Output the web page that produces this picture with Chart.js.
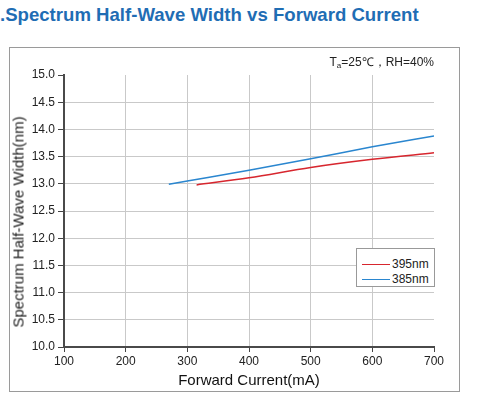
<!DOCTYPE html>
<html>
<head>
<meta charset="utf-8">
<script src="https://cdn.jsdelivr.net/npm/chart.js@4.4.1/dist/chart.umd.min.js"></script>
<style>
  html, body { margin:0; padding:0; background:#fff; width:482px; height:420px; overflow:hidden; }
  body { position:relative; font-family:"Liberation Sans", Arial, sans-serif; }
  #title { position:absolute; left:0px; top:4px; font-weight:bold; font-size:18.6px; color:#1f6db4; white-space:nowrap; }
  #frame { position:absolute; left:9px; top:47px; width:449px; height:343px; border:1px solid #9a9a9a; }
  #wrap { position:absolute; left:0; top:0; width:482px; height:420px; }
  #note { position:absolute; right:48px; top:53px; font-size:12px; color:#222; white-space:nowrap; }
  #note sub { font-size:8px; vertical-align:-2px; }
  #ytitle { position:absolute; left:17.5px; top:222px; transform:translate(-50%,-50%) rotate(-90deg); font-size:15px; color:#222; white-space:nowrap; }
  #legend { position:absolute; left:356px; top:248px; width:77px; height:37px; border:1px solid #999; background:#fff; }
  .row { position:absolute; left:0; height:14px; font-size:12px; color:#222; }
  .row .ln { position:absolute; left:5px; width:28px; height:0; border-top:1.6px solid; }
  .row .tx { position:absolute; left:35px; top:-7px; }
</style>
</head>
<body>
<div id="title">.Spectrum Half-Wave Width vs Forward Current</div>
<div id="frame"></div>
<div id="wrap"><canvas id="c" width="482" height="420"></canvas></div>
<div id="note">T<sub>a</sub>=25℃，RH=40%</div>
<div id="ytitle">Spectrum Half-Wave Width(nm)</div>
<div id="legend"></div>
<script>
// ---- data ----
const seriesNames = ["395nm", "385nm"];
const seriesColors = ["#d7262e", "#2a86cf"];
const current395 = [315, 400, 500, 600, 700];
const width395   = [12.98, 13.11, 13.30, 13.45, 13.57];
const current385 = [270, 300, 400, 500, 600, 700];
const width385   = [12.99, 13.05, 13.25, 13.46, 13.68, 13.88];
const xTicks = [100, 200, 300, 400, 500, 600, 700];
const yTicks = [10.0, 10.5, 11.0, 11.5, 12.0, 12.5, 13.0, 13.5, 14.0, 14.5, 15.0];

const toPts = (xs, ys) => xs.map((x, i) => ({x: x, y: ys[i]}));

// legend (HTML, from data)
const leg = document.getElementById('legend');
seriesNames.forEach((n, i) => {
  const r = document.createElement('div');
  r.className = 'row';
  r.style.top = (15 + i * 15) + 'px';
  r.innerHTML = '<div class="ln" style="border-color:' + seriesColors[i] + '"></div><div class="tx">' + n + '</div>';
  leg.appendChild(r);
});

const tickFont = {family: "'Liberation Sans', Arial, sans-serif", size: 12};

new Chart(document.getElementById('c'), {
  type: 'line',
  data: {
    datasets: [
      {label: seriesNames[0], data: toPts(current395, width395), borderColor: seriesColors[0], borderWidth: 1.5, pointRadius: 0, cubicInterpolationMode: 'monotone', fill: false},
      {label: seriesNames[1], data: toPts(current385, width385), borderColor: seriesColors[1], borderWidth: 1.5, pointRadius: 0, cubicInterpolationMode: 'monotone', fill: false}
    ]
  },
  options: {
    responsive: false,
    animation: false,
    devicePixelRatio: 1,
    layout: {padding: {left: 9, right: 48, top: 75, bottom: 25}},
    plugins: {legend: {display: false}, tooltip: {enabled: false}},
    scales: {
      x: {
        type: 'linear',
        min: xTicks[0], max: xTicks[xTicks.length - 1],
        afterBuildTicks: s => { s.ticks = xTicks.map(v => ({value: v})); },
        afterFit: s => { s.height = 48; },
        ticks: {font: tickFont, color: '#222', padding: 2, maxRotation: 0, callback: v => String(v)},
        grid: {
          color: c => (c.tick && (c.tick.value === 700 || c.tick.value === 100)) ? 'rgba(0,0,0,0)' : '#c9c9c9',
          tickColor: '#444', tickLength: 5, lineWidth: 1
        },
        border: {color: '#4a4a4a', width: 2},
        title: {display: true, text: 'Forward Current(mA)', color: '#111', font: {family: "'Liberation Sans', Arial, sans-serif", size: 15}, padding: {top: 0, bottom: 5}}
      },
      y: {
        type: 'linear',
        min: yTicks[0], max: yTicks[yTicks.length - 1],
        afterBuildTicks: s => { s.ticks = yTicks.map(v => ({value: v})); },
        afterFit: s => { s.width = 55; },
        ticks: {font: tickFont, color: '#222', padding: 3, callback: v => Number(v).toFixed(1)},
        grid: {
          color: c => (c.tick && (c.tick.value === 15 || c.tick.value === 10)) ? 'rgba(0,0,0,0)' : '#c9c9c9',
          tickColor: '#444', tickLength: 6, lineWidth: 1
        },
        border: {color: '#4a4a4a', width: 2}
      }
    }
  }
});
</script>
</body>
</html>
